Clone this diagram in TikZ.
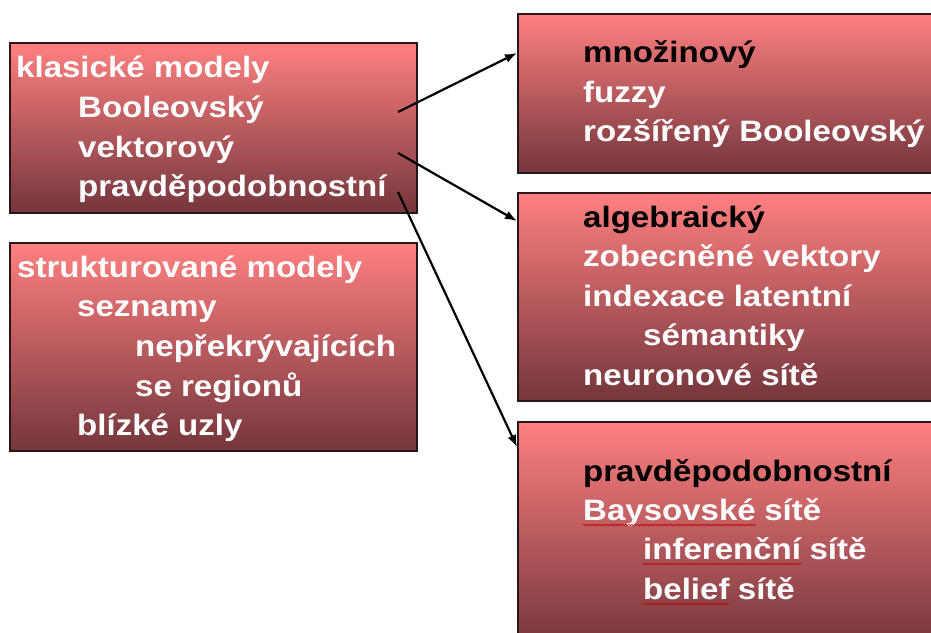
\documentclass[tikz,border=0pt]{standalone}
\usepackage{fontspec}
\setmainfont{Liberation Sans}[FakeStretch=1.12]
\usetikzlibrary{arrows.meta,calc,decorations.pathmorphing}
\definecolor{boxtop}{RGB}{255,128,128}
\definecolor{boxbot}{RGB}{116,54,60}
\definecolor{boxline}{RGB}{40,22,24}
\begin{document}
\begin{tikzpicture}[x=1pt,y=-1pt,
  mbox/.style={rectangle, draw=boxline, line width=1.5pt, top color=boxtop,
    bottom color=boxbot, anchor=north west, inner sep=0pt},
  txt/.style={anchor=base west, inner sep=0pt, text=white,
    font=\fontsize{29.5}{39.5}\selectfont\bfseries},
  head/.style={txt, text=black},
  link/.style={line width=2.2pt, -{Latex[length=12pt,width=9pt]}},
  squig/.style={draw=red!75!black, line width=0.6pt,
    decorate, decoration={snake, segment length=3pt, amplitude=0.8pt}}]
\useasboundingbox (0,0) rectangle (931,632);

% boxes
\node[mbox, minimum width=407pt, minimum height=170pt] (klas) at (9,42) {};
\node[mbox, minimum width=407pt, minimum height=208pt] (strukt) at (9,242) {};
\node[mbox, minimum width=430pt, minimum height=159pt] (mnoz) at (517,13) {};
\node[mbox, minimum width=430pt, minimum height=208pt] (alg) at (517,192) {};
\node[mbox, minimum width=430pt, minimum height=225pt] (prav) at (517,421) {};

% classic models
\node[txt] (k1) at (16,77) {klasické modely};
\node[txt] (k2) at (78,117) {Booleovský};
\node[txt] (k3) at (78,157) {vektorový};
\node[txt] (k4) at (78,196) {pravděpodobnostní};

% structured models
\node[txt] (s1) at (17,277) {strukturované modely};
\node[txt] (s2) at (77,316) {seznamy};
\node[txt] (s3) at (135,356) {nepřekrývajících};
\node[txt] (s4) at (135,396) {se regionů};
\node[txt] (s5) at (77,435) {blízké uzly};

% set-theoretic
\node[head] (m1) at (583,62) {množinový};
\node[txt] (m2) at (583,102) {fuzzy};
\node[txt] (m3) at (583,141) {rozšířený Booleovský};

% algebraic
\node[head] (a1) at (583,227) {algebraický};
\node[txt] (a2) at (583,266) {zobecněné vektory};
\node[txt] (a3) at (583,306) {indexace latentní};
\node[txt] (a4) at (643,345) {sémantiky};
\node[txt] (a5) at (583,385) {neuronové sítě};

% probabilistic
\node[head] (p1) at (583,481) {pravděpodobnostní};
\node[txt] (p2) at (583,520) {Baysovské};
\node[txt] at ($(p2.base east)+(8,0)$) {sítě};
\node[txt] (p3) at (643,559) {inferenční};
\node[txt] at ($(p3.base east)+(8,0)$) {sítě};
\node[txt] (p4) at (643,599) {belief};
\node[txt] at ($(p4.base east)+(8,0)$) {sítě};

% spelling marks
\draw[squig] ($(p2.base west)+(0,5)$) -- ($(p2.base east)+(0,5)$);
\draw[squig] ($(p3.base west)+(0,5)$) -- ($(p3.base east)+(0,5)$);
\draw[squig] ($(p4.base west)+(0,5)$) -- ($(p4.base east)+(0,5)$);

% connectors
\coordinate (c1) at (398,112);
\coordinate (c2) at (398,153);
\coordinate (c3) at (398,192);
\draw[link] (c1) -- ($(mnoz.north west)+(0,40)$);
\draw[link] (c2) -- ($(alg.north west)+(0,29)$);
\draw[link] (c3) -- ($(prav.north west)+(0,26)$);
\end{tikzpicture}
\end{document}
